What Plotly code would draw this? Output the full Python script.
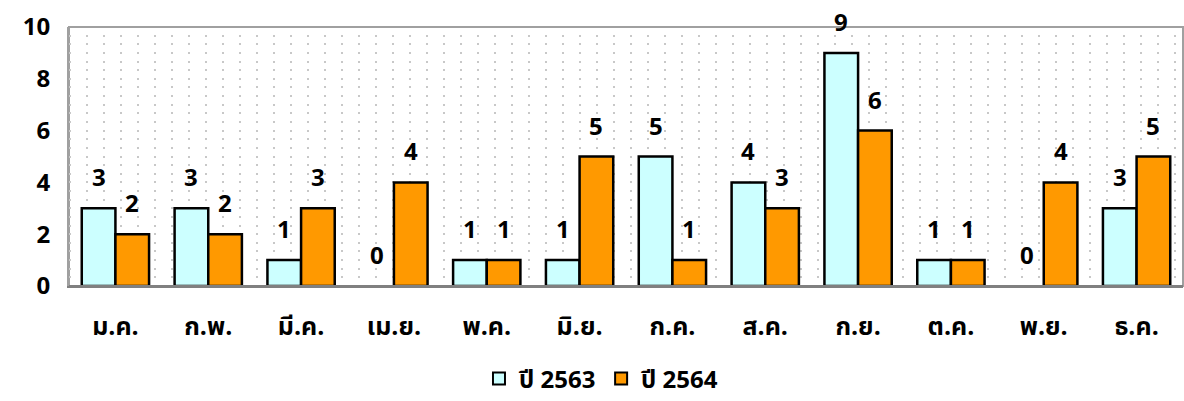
import plotly.graph_objects as go

months = ["ม.ค.", "ก.พ.", "มี.ค.", "เม.ย.", "พ.ค.", "มิ.ย.", "ก.ค.", "ส.ค.", "ก.ย.", "ต.ค.", "พ.ย.", "ธ.ค."]
y2563 = [3, 3, 1, 0, 1, 1, 5, 4, 9, 1, 0, 3]
y2564 = [2, 2, 3, 4, 1, 5, 1, 3, 6, 1, 4, 5]
series_names = ["ปี 2563", "ปี 2564"]
y_ticks = [0, 2, 4, 6, 8, 10]

FONT = "Tahoma, 'Noto Sans Thai', 'Noto Sans', sans-serif"


def outline(vals):
    return [0 if v == 0 else 2.5 for v in vals]


fig = go.Figure()
fig.add_trace(go.Bar(x=months, y=y2563, name=series_names[0],
                     marker=dict(color="#CCFFFF", line=dict(color="black", width=outline(y2563))),
                     offsetgroup="a"))
fig.add_trace(go.Bar(x=months, y=y2564, name=series_names[1],
                     marker=dict(color="#FF9900", line=dict(color="black", width=outline(y2564))),
                     offsetgroup="b"))

# data labels above bars
bar_w = (1 - 0.275) / 2
for i, m in enumerate(months):
    for vals, off in ((y2563, -bar_w / 2), (y2564, bar_w / 2)):
        fig.add_annotation(x=i + off, y=vals[i], xref="x", yref="y",
                           text=str(vals[i]), showarrow=False,
                           yanchor="middle", yshift=29,
                           font=dict(family=FONT, size=24, color="black", weight="bold"))

fig.update_layout(
    width=1184, height=401,
    margin=dict(l=69, r=1, t=27, b=115, autoexpand=False),
    paper_bgcolor="white", plot_bgcolor="white",
    barmode="group", bargap=0.275, bargroupgap=0,
    font=dict(family=FONT, color="black", weight="bold"),
    showlegend=True,
    legend=dict(orientation="h", x=0.508, xref="container", xanchor="center",
                y=0.055, yref="container", yanchor="middle",
                font=dict(family=FONT, size=24, color="black", weight="bold"),
                traceorder="normal", itemsizing="constant", itemwidth=30),
)
fig.update_xaxes(
    type="category", tickfont=dict(family=FONT, size=25, color="black", weight="bold"),
    showline=True, linecolor="#808080", linewidth=2, mirror=False,
    ticks="", ticklabelstandoff=17, showgrid=False,
)
fig.update_yaxes(
    range=[0, 10], tickvals=y_ticks,
    tickfont=dict(family=FONT, size=24, color="black", weight="bold"),
    showline=True, linecolor="#a0a0a0", linewidth=2, mirror=False,
    ticks="", ticklabelstandoff=12,
    showgrid=True, gridcolor="#c8c8c8", gridwidth=2, griddash="2px,15px",
    minor=dict(dtick=1/3, tick0=0, showgrid=True, gridcolor="#c8c8c8", gridwidth=2, griddash="2px,15px"),
    zeroline=False,
)
# top & right frame
fig.add_shape(type="rect", xref="paper", yref="paper", x0=0, y0=0, x1=1, y1=1,
              line=dict(color="#a0a0a0", width=2), layer="below")
# bottom axis darker
fig.add_shape(type="line", xref="paper", yref="paper", x0=0, y0=0, x1=1, y1=0,
              line=dict(color="#808080", width=2))

fig.write_html("out.html", config={"displayModeBar": False},
               post_script="document.body.style.margin='0';document.body.style.overflow='hidden';")
